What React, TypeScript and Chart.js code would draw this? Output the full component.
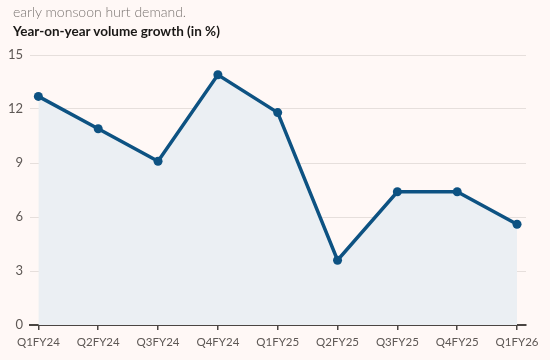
import React, { useEffect, useRef } from "react";
import { Chart, registerables } from "chart.js";

Chart.register(...registerables);

const quarters = ["Q1FY24", "Q2FY24", "Q3FY24", "Q4FY24", "Q1FY25", "Q2FY25", "Q3FY25", "Q4FY25", "Q1FY26"];
const growth = [12.7, 10.9, 9.1, 13.9, 11.8, 3.6, 7.4, 7.4, 5.6];
const yTicks = [0, 3, 6, 9, 12, 15];

const BG = "#fff8f6";
const LINE = "#0d5282";
const FONT = "Lato, 'Open Sans', sans-serif";

export default function App() {
  const ref = useRef<HTMLCanvasElement>(null);
  useEffect(() => {
    document.body.style.margin = "0";
    document.body.style.background = BG;
    const ctx = ref.current!;
    const chart = new Chart(ctx, {
      type: "line",
      data: {
        datasets: [
          {
            data: growth.map((v, i) => ({ x: i, y: v })),
            borderColor: LINE,
            borderWidth: 3.5,
            pointRadius: 4.5,
            pointBackgroundColor: LINE,
            pointBorderColor: LINE,
            pointBorderWidth: 0,
            fill: "origin",
            backgroundColor: "#ebeff3",
            tension: 0,
          },
        ],
      },
      options: {
        animation: false,
        responsive: false,
        maintainAspectRatio: false,
        layout: { padding: { left: 0, right: 24, top: 55, bottom: 0 } },
        plugins: { legend: { display: false }, tooltip: { enabled: false } },
        scales: {
          x: {
            type: "linear",
            min: -0.14,
            max: 8.15,
            afterFit: (s: any) => {
              s.height = 35;
            },
            border: { display: true, color: "#4a4542", width: 2 },
            grid: { drawOnChartArea: false, drawTicks: true, tickLength: 5, color: "#4a4542", lineWidth: 1.5 },
            ticks: {
              stepSize: 1,
              includeBounds: false,
              autoSkip: false,
              maxRotation: 0,
              padding: 5,
              color: "#5e5855",
              font: { family: FONT, size: 11.5 },
              callback: (v: any) => (Number.isInteger(v) ? quarters[v] : ""),
            },
          },
          y: {
            min: 0,
            max: 15,
            afterFit: (s: any) => {
              s.width = 30;
            },
            afterBuildTicks: (s: any) => {
              s.ticks = yTicks.map((v) => ({ value: v }));
            },
            border: { display: false },
            grid: {
              drawTicks: false,
              color: (c: any) => (c.tick && c.tick.value === 0 ? "#4a4542" : "#e6dfdc"),
              lineWidth: (c: any) => (c.tick && c.tick.value === 0 ? 2 : 1),
            },
            ticks: {
              padding: 7,
              color: "#5e5855",
              font: { family: FONT, size: 13 },
            },
          },
        },
      },
    });
    return () => chart.destroy();
  }, []);

  return (
    <div style={{ position: "relative", width: 550, height: 360, background: BG, overflow: "hidden" }}>
      <canvas ref={ref} width={550} height={360} style={{ position: "absolute", left: 0, top: 0 }} />
      <div
        style={{
          position: "absolute",
          left: 13,
          top: 3,
          fontFamily: FONT,
          fontSize: 14,
          lineHeight: "17px",
          color: "#7a7471",
          fontWeight: 300,
          whiteSpace: "nowrap",
        }}
      >
        early monsoon hurt demand.
      </div>
      <div
        style={{
          position: "absolute",
          left: 13,
          top: 23,
          fontFamily: FONT,
          fontSize: 13.5,
          lineHeight: "16px",
          color: "#1a1816",
          fontWeight: 700,
          whiteSpace: "nowrap",
        }}
      >
        Year-on-year volume growth (in %)
      </div>
    </div>
  );
}
